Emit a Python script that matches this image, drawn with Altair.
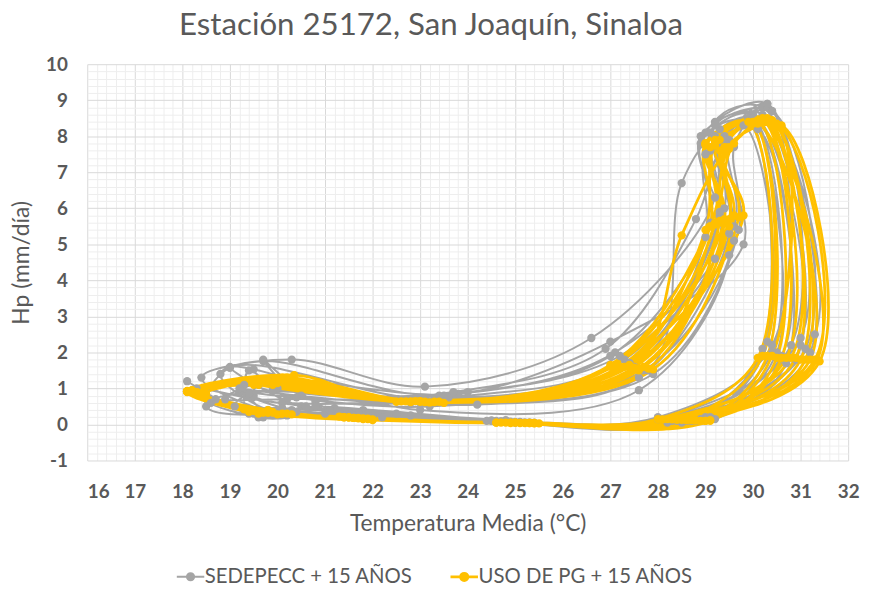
import altair as alt
import pandas as pd

months = ["Ene", "Feb", "Mar", "Abr", "May", "Jun", "Jul", "Ago", "Sep", "Oct", "Nov", "Dic"]

# SEDEPECC + 15 AÑOS  (15 years, per-month temperature and Hp)
sed_T = {
    "Ene": [18.1, 18.4, 18.8, 19.0, 19.4, 18.5, 19.7, 18.9, 19.2, 18.6, 19.5, 18.3, 19.1, 18.7, 19.3],
    "Feb": [19.6, 20.0, 19.8, 20.5, 19.4, 20.2, 20.8, 19.9, 20.3, 19.7, 20.6, 19.5, 20.1, 20.4, 19.8],
    "Mar": [21.0, 21.5, 22.0, 21.8, 21.2, 22.5, 21.6, 20.8, 22.2, 21.4, 21.9, 21.1, 22.8, 21.7, 21.3],
    "Abr": [24.5, 24.6, 25.0, 24.8, 25.3, 24.4, 25.1, 24.7, 25.4, 24.9, 25.2, 24.6, 25.0, 24.5, 24.8],
    "May": [28.0, 28.5, 29.2, 28.3, 28.8, 28.1, 29.0, 28.6, 28.2, 28.9, 28.4, 29.1, 28.7, 28.0, 28.5],
    "Jun": [30.4, 31.3, 31.0, 30.8, 30.2, 30.6, 31.2, 30.3, 30.9, 30.5, 31.1, 30.7, 30.2, 31.0, 30.4],
    "Jul": [30.3, 30.2, 30.0, 30.4, 29.9, 30.1, 30.3, 29.8, 30.2, 30.0, 30.4, 30.1, 29.9, 30.3, 30.0],
    "Ago": [29.0, 29.2, 28.9, 29.4, 29.1, 29.3, 29.5, 29.0, 29.2, 29.6, 28.9, 29.3, 29.1, 29.4, 29.2],
    "Sep": [29.2, 29.8, 29.5, 29.2, 29.3, 28.5, 29.6, 29.0, 29.4, 29.7, 29.1, 29.5, 29.3, 28.8, 29.6],
    "Oct": [26.6, 27.0, 27.6, 27.2, 27.4, 27.8, 27.1, 27.5, 27.3, 27.9, 27.0, 27.6, 27.4, 26.9, 27.7],
    "Nov": [23.1, 23.5, 23.0, 24.0, 23.3, 22.8, 23.8, 23.2, 23.6, 22.9, 23.4, 24.2, 23.1, 23.7, 23.0],
    "Dic": [20.3, 19.7, 19.5, 20.0, 19.0, 20.5, 19.8, 19.3, 20.2, 19.6, 20.1, 19.4, 19.9, 20.4, 19.2],
}
sed_Hp = {
    "Ene": [1.2, 1.3, 1.4, 1.6, 1.5, 0.5, 1.8, 0.7, 0.9, 0.6, 0.8, 1.0, 0.5, 0.7, 1.1],
    "Feb": [0.2, 0.3, 0.4, 0.5, 0.3, 0.25, 0.6, 0.35, 0.4, 0.2, 0.5, 0.3, 0.45, 0.35, 0.3],
    "Mar": [0.3, 0.35, 0.2, 0.4, 0.45, 0.3, 0.25, 0.5, 0.2, 0.35, 0.3, 0.4, 0.25, 0.3, 0.35],
    "Abr": [0.1, 0.08, 0.05, 0.12, 0.06, 0.1, 0.07, 0.09, 0.05, 0.08, 0.06, 0.1, 0.07, 0.11, 0.08],
    "May": [0.2, 0.05, 0.15, 0.1, 0.1, 0.15, 0.2, 0.1, 0.05, 0.15, 0.1, 0.2, 0.1, 0.15, 0.1],
    "Jun": [2.2, 2.5, 2.2, 2.2, 2.1, 1.9, 2.0, 2.3, 1.8, 2.0, 2.1, 1.7, 1.9, 2.4, 2.0],
    "Jul": [8.9, 8.8, 8.6, 8.7, 8.5, 8.4, 8.8, 8.3, 8.6, 8.5, 8.7, 8.2, 8.4, 8.9, 8.5],
    "Ago": [8.1, 8.4, 7.8, 8.0, 7.6, 8.2, 7.9, 7.5, 8.3, 7.7, 8.0, 7.8, 8.1, 7.9, 8.0],
    "Sep": [6.3, 5.0, 4.7, 4.6, 5.8, 6.7, 5.5, 5.2, 6.0, 5.4, 5.6, 5.3, 5.9, 5.7, 5.1],
    "Oct": [2.4, 2.3, 0.95, 1.9, 1.7, 1.5, 2.0, 1.6, 1.8, 1.4, 1.9, 1.3, 1.7, 2.1, 1.5],
    "Nov": [1.05, 0.8, 0.4, 0.9, 0.7, 0.6, 0.85, 0.5, 0.75, 0.65, 0.8, 0.55, 0.7, 0.9, 0.6],
    "Dic": [1.8, 1.76, 1.53, 1.0, 1.57, 0.8, 1.2, 0.9, 0.7, 1.1, 0.6, 0.85, 0.95, 0.75, 1.0],
}

# USO DE PG + 15 AÑOS
pg_T = {
    "Ene": [18.1, 18.1, 18.2, 18.1, 18.3, 18.1, 18.2, 18.4, 18.1, 18.2, 18.5, 18.1, 18.3, 18.2, 18.1],
    "Feb": [19.4, 19.6, 19.8, 20.0, 19.5, 19.7, 20.2, 19.3, 19.9, 20.1, 19.6, 19.8, 20.3, 19.5, 19.7],
    "Mar": [21.4, 21.6, 21.9, 22.0, 21.5, 21.8, 21.3, 21.7, 22.0, 21.5, 21.9, 21.6, 21.4, 21.8, 21.7],
    "Abr": [24.6, 24.9, 25.0, 25.3, 25.5, 24.7, 25.1, 24.8, 25.4, 25.2, 24.6, 25.0, 25.3, 24.9, 25.4],
    "May": [28.0, 28.9, 29.1, 28.3, 28.6, 29.0, 28.2, 28.8, 28.5, 29.1, 28.1, 28.7, 28.4, 29.0, 28.6],
    "Jun": [30.1, 30.3, 30.5, 30.7, 30.9, 31.1, 31.3, 31.4, 30.2, 30.6, 30.8, 31.0, 31.2, 30.4, 31.35],
    "Jul": [29.9, 30.0, 30.1, 30.2, 30.3, 30.4, 30.5, 30.6, 30.0, 30.2, 30.3, 30.4, 30.1, 30.5, 30.2],
    "Ago": [29.0, 29.1, 29.2, 29.3, 29.5, 29.6, 29.0, 29.4, 29.2, 29.1, 29.3, 29.5, 29.0, 29.2, 29.4],
    "Sep": [29.1, 29.3, 29.6, 29.8, 28.5, 29.2, 29.4, 29.5, 29.0, 29.3, 29.7, 29.1, 29.4, 29.2, 29.5],
    "Oct": [27.0, 27.4, 27.9, 27.2, 27.5, 27.7, 27.1, 27.6, 27.3, 27.8, 27.4, 27.0, 27.6, 27.2, 27.5],
    "Nov": [22.5, 22.8, 23.0, 23.3, 23.5, 22.7, 23.1, 23.4, 22.9, 23.2, 22.6, 23.0, 23.3, 22.8, 23.1],
    "Dic": [20.35, 19.8, 19.6, 20.1, 19.9, 20.2, 19.7, 20.0, 19.5, 20.3, 19.8, 20.1, 19.9, 20.2, 19.6],
}
pg_Hp = {
    "Ene": [0.92, 0.9, 0.95, 0.93, 0.9, 0.92, 0.94, 0.88, 0.91, 0.93, 0.85, 0.92, 0.9, 0.94, 0.92],
    "Feb": [0.35, 0.3, 0.4, 0.28, 0.38, 0.33, 0.3, 0.42, 0.35, 0.3, 0.37, 0.32, 0.28, 0.4, 0.34],
    "Mar": [0.2, 0.18, 0.15, 0.12, 0.2, 0.17, 0.22, 0.18, 0.14, 0.19, 0.16, 0.18, 0.2, 0.15, 0.17],
    "Abr": [0.05, 0.04, 0.05, 0.04, 0.03, 0.05, 0.04, 0.05, 0.04, 0.04, 0.05, 0.05, 0.04, 0.05, 0.03],
    "May": [0.15, 0.1, 0.12, 0.14, 0.12, 0.1, 0.15, 0.11, 0.13, 0.1, 0.14, 0.12, 0.13, 0.1, 0.12],
    "Jun": [1.85, 1.9, 1.85, 1.85, 1.85, 1.8, 1.8, 1.75, 1.9, 1.85, 1.85, 1.8, 1.8, 1.9, 1.8],
    "Jul": [8.4, 8.35, 8.45, 8.5, 8.4, 8.45, 8.35, 8.3, 8.4, 8.45, 8.5, 8.4, 8.35, 8.3, 8.45],
    "Ago": [7.8, 7.7, 7.9, 7.6, 7.7, 7.8, 7.75, 7.6, 7.85, 7.7, 7.9, 7.65, 7.8, 7.75, 7.7],
    "Sep": [5.5, 5.6, 5.8, 5.8, 5.25, 5.6, 5.7, 5.5, 5.4, 5.65, 5.75, 5.5, 5.6, 5.55, 5.7],
    "Oct": [1.6, 1.65, 1.53, 1.6, 1.55, 1.6, 1.65, 1.5, 1.6, 1.55, 1.6, 1.65, 1.55, 1.6, 1.58],
    "Nov": [0.63, 0.62, 0.65, 0.63, 0.6, 0.64, 0.62, 0.63, 0.65, 0.61, 0.64, 0.63, 0.62, 0.64, 0.63],
    "Dic": [1.37, 1.2, 1.15, 1.25, 1.1, 1.3, 1.2, 1.15, 1.1, 1.25, 1.2, 1.3, 1.15, 1.2, 1.1],
}

series_names = ["SEDEPECC + 15 AÑOS", "USO DE PG + 15 AÑOS"]
series_colors = ["#A5A5A5", "#FFC000"]

rows = []
for name, T, H in [(series_names[0], sed_T, sed_Hp), (series_names[1], pg_T, pg_Hp)]:
    idx = 0
    for y in range(15):
        for m in months:
            rows.append({"serie": name, "idx": idx, "T": T[m][y], "Hp": H[m][y]})
            idx += 1
df = pd.DataFrame(rows)

x_ticks = [round(16 + 0.2 * i, 1) for i in range(81)]
y_ticks = [round(-1 + 0.2 * i, 1) for i in range(56)]
is_major = "abs(datum.value - round(datum.value)) < 0.001"
grid_color = {"condition": {"test": is_major, "value": "#D9D9D9"}, "value": "#EEEEEE"}
label_expr = is_major + " ? ('' + round(datum.value)) : ''"

x_axis = alt.Axis(values=x_ticks, labelExpr=label_expr, gridColor=grid_color,
                  title="Temperatura  Media (°C)", ticks=False, domain=False,
                  labelOverlap=False, labelFlush=False,
                  labelAlign={"condition": {"test": "datum.value < 16.1", "value": "left"}, "value": "center"},
                  labelPadding=22, titlePadding=12, tickCount=81)
y_axis = alt.Axis(values=y_ticks, labelExpr=label_expr, gridColor=grid_color,
                  title="Hp (mm/día)", ticks=False, domain=False,
                  labelOverlap=False, labelPadding=20, titlePadding=12, tickCount=56)
x_scale = alt.Scale(domain=[16, 32], nice=False)
y_scale = alt.Scale(domain=[-1, 10], nice=False)
color_scale = alt.Scale(domain=series_names, range=series_colors)

base = alt.Chart(df)
lines = base.mark_line(interpolate="catmull-rom").encode(
    x=alt.X("T:Q", scale=x_scale, axis=x_axis),
    y=alt.Y("Hp:Q", scale=y_scale, axis=y_axis),
    color=alt.Color("serie:N", scale=color_scale,
                    legend=alt.Legend(title=None, orient="none", direction="horizontal",
                                      legendX=94, legendY=507, labelLimit=0,
                                      symbolType="M-1.6,0L1.6,0M0.42,0A0.42,0.42,0,1,1,-0.42,0A0.42,0.42,0,1,1,0.42,0Z",
                                      symbolSize=300, symbolStrokeWidth=2.5, columnPadding=32,
                                      labelFontSize=20.5, labelColor="#595959", labelFont="Lato")),
    order="idx:Q",
    strokeWidth=alt.StrokeWidth("serie:N", scale=alt.Scale(domain=series_names, range=[2, 2.8]), legend=None),
)
points = base.mark_circle(size=70, opacity=1).encode(
    x=alt.X("T:Q", scale=x_scale, axis=x_axis),
    y=alt.Y("Hp:Q", scale=y_scale, axis=y_axis),
    color=alt.Color("serie:N", scale=color_scale, legend=None),
)

chart = alt.layer(lines, points).properties(
    width=768, height=400,
    autosize=alt.AutoSizeParams(type="none"),
    padding={"left": 80, "top": 54, "right": 15, "bottom": 126},
    title=alt.Title("Estación 25172, San Joaquín, Sinaloa", fontSize=31.5, font="Lato",
                    fontWeight="normal", color="#595959", offset=14, dx=-37),
).configure_view(stroke=None).configure_axis(
    labelFont="Lato", labelFontSize=19, labelFontWeight="bold", labelColor="#595959",
    titleFont="Lato", titleFontSize=23, titleFontWeight="normal", titleColor="#595959",
)

chart.save("out.html", embed_options={"renderer": "svg", "actions": False})
